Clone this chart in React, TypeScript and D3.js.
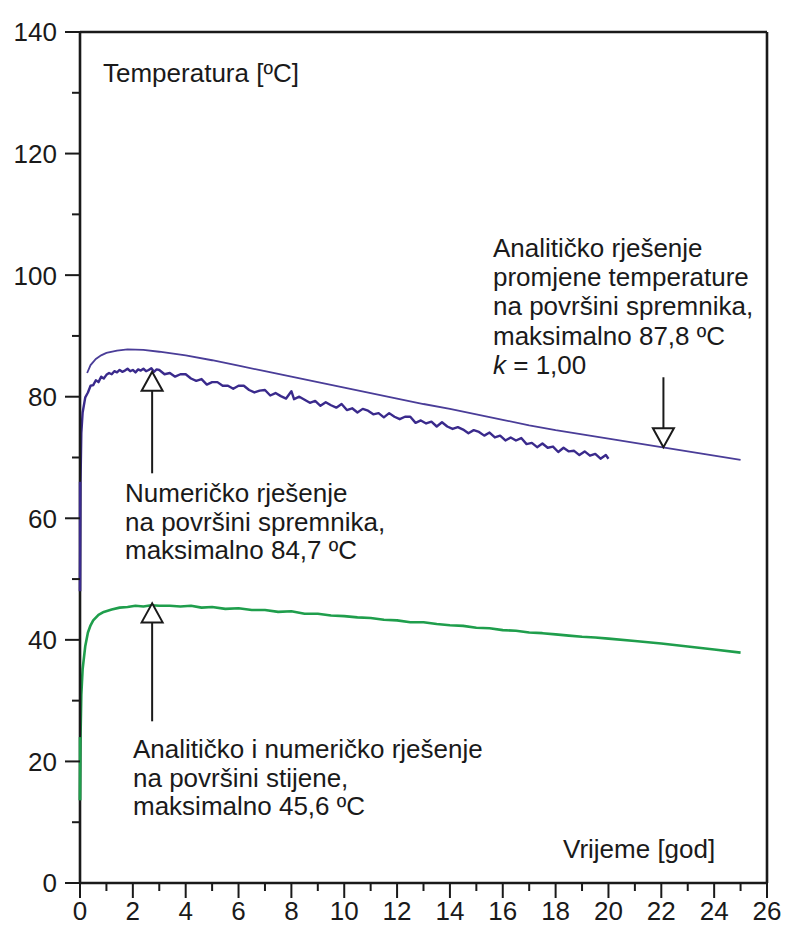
import React from "react";
import * as d3 from "d3";

// ---- data ----
const xTicks = [0, 2, 4, 6, 8, 10, 12, 14, 16, 18, 20, 22, 24, 26];
const yTicks = [0, 20, 40, 60, 80, 100, 120, 140];

// Analytic solution at tank surface (smooth)
const anaT = [0.27, 0.4, 0.6, 0.8, 1.0, 1.4, 1.8, 2.4, 3, 4, 5, 6, 7, 8, 9, 10, 11, 12, 13, 14, 15, 16, 17, 18, 19, 20, 21, 22, 23, 24, 25];
const anaV = [83.9, 85.2, 86.2, 86.8, 87.2, 87.6, 87.8, 87.7, 87.4, 86.8, 86.0, 85.1, 84.2, 83.3, 82.4, 81.5, 80.6, 79.7, 78.8, 78.0, 77.1, 76.2, 75.3, 74.5, 73.8, 73.1, 72.4, 71.7, 71.0, 70.3, 69.6];

// Numeric solution at tank surface (noisy)
const numT = [0, 0.02, 0.05, 0.1, 0.2, 0.3, 0.4, 0.5, 0.6, 0.7, 0.8, 0.9, 1.0, 1.1, 1.2, 1.3, 1.4, 1.5, 1.6, 1.7, 1.8, 1.9, 2.0, 2.1, 2.2, 2.3, 2.4, 2.5, 2.6, 2.7, 2.8, 2.9, 3.0, 3.2, 3.4, 3.6, 3.8, 4.0, 4.2, 4.4, 4.6, 4.8, 5.0, 5.2, 5.4, 5.6, 5.8, 6.0, 6.2, 6.4, 6.6, 6.8, 7.0, 7.2, 7.4, 7.6, 7.8, 8.0, 8.1, 8.3, 8.5, 8.7, 8.9, 9.1, 9.3, 9.5, 9.7, 9.9, 10.1, 10.3, 10.5, 10.7, 10.9, 11.1, 11.3, 11.5, 11.7, 11.9, 12.1, 12.3, 12.5, 12.7, 12.9, 13.1, 13.3, 13.5, 13.7, 13.9, 14.1, 14.3, 14.5, 14.7, 14.9, 15.1, 15.3, 15.5, 15.7, 15.9, 16.1, 16.3, 16.5, 16.7, 16.9, 17.1, 17.3, 17.5, 17.7, 17.9, 18.1, 18.3, 18.5, 18.7, 18.9, 19.1, 19.3, 19.5, 19.7, 19.9, 20.0];
const numV = [48, 66, 74, 77.4, 79.9, 80.7, 81.8, 81.9, 82.7, 82.4, 83.3, 83.0, 83.6, 83.9, 83.7, 84.2, 84.0, 84.4, 84.1, 84.3, 84.6, 84.2, 84.4, 84.0, 84.5, 84.3, 84.6, 84.2, 84.4, 84.7, 84.1, 84.5, 84.4, 83.7, 83.9, 83.3, 83.7, 83.7, 83.0, 82.6, 82.9, 82.0, 82.4, 82.4, 81.8, 81.8, 81.3, 81.8, 81.8, 81.1, 80.7, 81.0, 81.1, 80.2, 80.6, 80.1, 79.7, 80.9, 79.6, 80.0, 79.5, 79.0, 79.3, 78.5, 79.1, 78.6, 78.2, 78.8, 77.8, 78.1, 77.4, 78.0, 77.7, 77.1, 77.3, 76.6, 77.3, 76.7, 76.3, 76.7, 76.7, 75.7, 76.1, 75.6, 75.9, 75.1, 75.8, 75.1, 74.7, 75.0, 74.6, 74.0, 74.5, 74.2, 73.6, 74.1, 73.3, 73.6, 72.8, 73.3, 72.8, 73.2, 72.2, 72.4, 71.7, 72.3, 71.6, 71.8, 70.9, 71.6, 71.0, 71.1, 70.4, 71.0, 70.3, 70.6, 69.8, 70.4, 69.8];

// Analytic and numeric solution at rock surface
const rockT = [0, 0.02, 0.05, 0.1, 0.2, 0.3, 0.4, 0.5, 0.7, 0.9, 1.2, 1.5, 1.8, 2.1, 2.4, 2.7, 3.0, 3.4, 3.8, 4.2, 4.6, 5.0, 5.5, 6.0, 6.5, 7.0, 7.5, 8.0, 8.5, 9.0, 9.5, 10.0, 10.5, 11.0, 11.5, 12.0, 12.5, 13.0, 13.5, 14.0, 14.5, 15.0, 15.5, 16.0, 16.5, 17.0, 17.5, 18.0, 18.5, 19.0, 19.5, 20.0, 21.0, 22.0, 23.0, 24.0, 25.0];
const rockV = [13.6, 24, 31, 35.2, 39.0, 41.2, 42.4, 43.2, 44.1, 44.6, 45.0, 45.3, 45.4, 45.6, 45.5, 45.7, 45.6, 45.6, 45.5, 45.6, 45.3, 45.4, 45.1, 45.2, 44.9, 44.9, 44.6, 44.7, 44.3, 44.3, 44.0, 43.9, 43.7, 43.6, 43.3, 43.2, 42.9, 42.9, 42.6, 42.4, 42.3, 42.0, 41.9, 41.6, 41.5, 41.2, 41.1, 40.9, 40.7, 40.5, 40.4, 40.2, 39.8, 39.4, 38.9, 38.4, 37.9];

// arrows
const arrowX = [2.73, 2.73, 22.08];
const arrowTip = [84.1, 46.0, 71.7];
const arrowTail = [67.4, 26.6, 83.2];

const labelTemp = "Temperatura [ºC]";
const labelTime = "Vrijeme [god]";
const noteAnalytic = ["Analitičko rješenje", "promjene temperature", "na površini spremnika,", "maksimalno 87,8 ºC"];
const noteNumeric = ["Numeričko rješenje", "na površini spremnika,", "maksimalno 84,7 ºC"];
const noteRock = ["Analitičko i numeričko rješenje", "na površini stijene,", "maksimalno 45,6 ºC"];

const W = 785, H = 930;
const X0 = 80, X1 = 767, Y0 = 883, Y1 = 32;
const FONT = "'Liberation Sans', Arial, sans-serif";

export default function App() {
  const x = d3.scaleLinear().domain([0, 26]).range([X0, X1]);
  const y = d3.scaleLinear().domain([0, 140]).range([Y0, Y1]);
  const line = d3.line<[number, number]>().x(d => x(d[0])).y(d => y(d[1]));
  const ana = line(anaT.map((t, i) => [t, anaV[i]] as [number, number]))!;
  const num = line(numT.map((t, i) => [t, numV[i]] as [number, number]))!;
  const rock = line(rockT.map((t, i) => [t, rockV[i]] as [number, number]))!;

  const minorX = d3.range(0, 27, 1).filter(v => v % 2 !== 0);
  const minorY = d3.range(10, 140, 20);

  const textStyle = { fontFamily: FONT, fontSize: 26, fill: "#1a1a1a" } as const;

  const arrow = (i: number) => {
    const ax = x(arrowX[i]);
    const tip = y(arrowTip[i]);
    const tail = y(arrowTail[i]);
    const dir = tail > tip ? 1 : -1;
    const th = 19, tw = 10.5;
    const base = tip + dir * th;
    return (
      <g key={i} stroke="#1a1a1a" strokeWidth={2} fill="#fff">
        <line x1={ax} x2={ax} y1={base} y2={tail} />
        <path d={`M${ax},${tip} L${ax - tw},${base} L${ax + tw},${base} Z`} strokeLinejoin="miter" />
      </g>
    );
  };

  return (
    <svg width={W} height={H} style={{ position: "absolute", left: 0, top: 0, background: "#fff" }}>
      <rect x={0} y={0} width={W} height={H} fill="#fff" />
      <path d={rock} fill="none" stroke="#1f9e4c" strokeWidth={2.6} strokeLinejoin="round" />
      <path d={num} fill="none" stroke="#3a2a8c" strokeWidth={2.4} strokeLinejoin="round" />
      <path d={ana} fill="none" stroke="#4a3d98" strokeWidth={1.8} />

      <g stroke="#1a1a1a" strokeWidth={2.6} fill="none">
        <line x1={X0} x2={X1} y1={Y1} y2={Y1} />
        <line x1={X1} x2={X1} y1={Y1} y2={Y0} />
      </g>
      <line x1={X0} x2={X0} y1={Y1} y2={Y0} stroke="#1a1a1a" strokeWidth={2.6} />
      <path d={line([[0, 48], [0, 66]])!} stroke="#3a2a8c" strokeWidth={2.4} />
      <path d={line([[0, 13.6], [0, 24]])!} stroke="#1f9e4c" strokeWidth={2.6} />
      <line x1={X0} x2={X1} y1={Y0} y2={Y0} stroke="#1a1a1a" strokeWidth={2.6} />

      {yTicks.map(v => (
        <g key={"y" + v}>
          <line x1={X0 - 15} x2={X0} y1={y(v)} y2={y(v)} stroke="#1a1a1a" strokeWidth={2} />
          <text x={X0 - 23} y={y(v)} dy="0.36em" textAnchor="end" {...textStyle}>{v}</text>
        </g>
      ))}
      {minorY.map(v => (
        <line key={"my" + v} x1={X0 - 8} x2={X0} y1={y(v)} y2={y(v)} stroke="#1a1a1a" strokeWidth={2} />
      ))}
      {xTicks.map(v => (
        <g key={"x" + v}>
          <line x1={x(v)} x2={x(v)} y1={Y0} y2={Y0 + 15} stroke="#1a1a1a" strokeWidth={2} />
          <text x={x(v)} y={920} textAnchor="middle" {...textStyle}>{v}</text>
        </g>
      ))}
      {minorX.map(v => (
        <line key={"mx" + v} x1={x(v)} x2={x(v)} y1={Y0} y2={Y0 + 8} stroke="#1a1a1a" strokeWidth={2} />
      ))}

      {arrowX.map((_, i) => arrow(i))}

      <text x={103} y={82} {...textStyle}>{labelTemp}</text>
      <text x={563} y={858} {...textStyle}>{labelTime}</text>

      <text {...textStyle}>
        {noteAnalytic.map((s, i) => (
          <tspan key={i} x={493} y={257 + i * 29.2}>{s}</tspan>
        ))}
        <tspan x={493} y={257 + 4 * 29.2} fontStyle="italic">k</tspan>
        <tspan> = 1,00</tspan>
      </text>
      <text {...textStyle}>
        {noteNumeric.map((s, i) => (
          <tspan key={i} x={125} y={502 + i * 28.5}>{s}</tspan>
        ))}
      </text>
      <text {...textStyle}>
        {noteRock.map((s, i) => (
          <tspan key={i} x={133} y={758 + i * 28.7}>{s}</tspan>
        ))}
      </text>
    </svg>
  );
}
